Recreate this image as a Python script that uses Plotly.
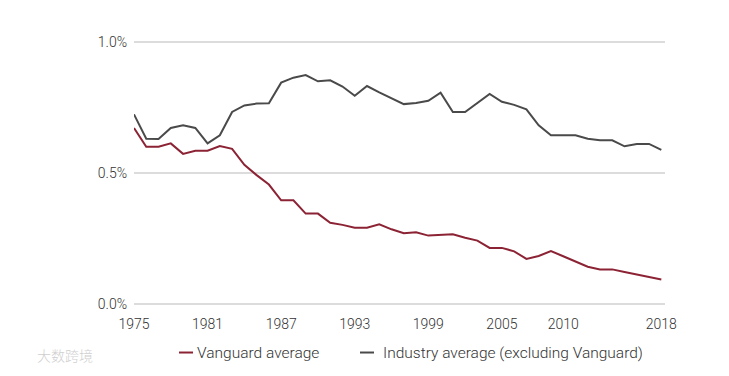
import plotly.graph_objects as go

years = list(range(1975, 2019))

vanguard = [0.672, 0.600, 0.600, 0.613, 0.573, 0.585, 0.585, 0.603, 0.592, 0.531,
            0.492, 0.456, 0.396, 0.396, 0.345, 0.345, 0.310, 0.302, 0.291, 0.291,
            0.304, 0.285, 0.270, 0.274, 0.261, 0.263, 0.266, 0.253, 0.242, 0.214,
            0.214, 0.201, 0.172, 0.183, 0.202, 0.182, 0.162, 0.142, 0.132, 0.132,
            0.122, 0.112, 0.102, 0.093]

industry = [0.724, 0.631, 0.630, 0.672, 0.682, 0.672, 0.613, 0.644, 0.733, 0.758,
            0.765, 0.766, 0.845, 0.864, 0.874, 0.850, 0.854, 0.830, 0.795, 0.832,
            0.808, 0.785, 0.763, 0.767, 0.776, 0.807, 0.733, 0.733, 0.769, 0.802,
            0.772, 0.760, 0.743, 0.682, 0.644, 0.644, 0.644, 0.631, 0.625, 0.625,
            0.602, 0.611, 0.611, 0.588]

tick_years = [1975, 1981, 1987, 1993, 1999, 2005, 2010, 2018]
y_ticks = [0.0, 0.5, 1.0]
y_tick_text = ["0.0%", "0.5%", "1.0%"]

series_names = ["Vanguard average", "Industry average (excluding Vanguard)"]
RED = "#8c2334"
GRAY = "#4a4a4a"
TEXT = "#333333"
FONT = "Roboto"

fig = go.Figure()
fig.add_trace(go.Scatter(x=years, y=industry, mode="lines", name=series_names[1],
                         line=dict(color=GRAY, width=2), showlegend=False))
fig.add_trace(go.Scatter(x=years, y=vanguard, mode="lines", name=series_names[0],
                         line=dict(color=RED, width=2), showlegend=False))

fig.update_layout(
    width=729, height=376,
    margin=dict(l=134, r=64, t=41, b=71),
    plot_bgcolor="white", paper_bgcolor="white",
    font=dict(family=FONT, size=14, color=TEXT, weight=300),
    xaxis=dict(range=[1975, 2018.3], tickvals=tick_years,
               ticktext=[str(t) for t in tick_years],
               showgrid=False, zeroline=False, showline=False, ticks="",
               ticklabelstandoff=9,
               tickfont=dict(family=FONT, size=14, color=TEXT, weight=300)),
    yaxis=dict(range=[-0.004, 1.004], tickvals=y_ticks, ticktext=y_tick_text,
               showgrid=True, gridcolor="#dcdcdc", gridwidth=1.5,
               zeroline=False, showline=False, ticks="",
               ticklabelstandoff=6,
               tickfont=dict(family=FONT, size=14, color=TEXT, weight=300)),
)

# legend: short coloured dashes + labels
legend_items = [(series_names[0], RED, 0.0847, 0.1111, 0.115),
                (series_names[1], GRAY, 0.4256, 0.452, 0.466)]
for name, color, x0, x1, xt in legend_items:
    fig.add_shape(type="line", xref="paper", yref="paper",
                  x0=x0, x1=x1, y0=-0.18, y1=-0.18,
                  line=dict(color=color, width=2))
    fig.add_annotation(xref="paper", yref="paper", x=xt, y=-0.18,
                       xanchor="left", yanchor="middle", showarrow=False,
                       text=name,
                       font=dict(family=FONT, size=15.5, color=TEXT, weight=300))

# faint watermark
fig.add_annotation(xref="paper", yref="paper", x=-0.186, y=-0.19,
                   xanchor="left", yanchor="middle", showarrow=False,
                   text="大数跨境",
                   font=dict(family="Noto Sans CJK SC", size=14, color="#cfcfcf"))

fig.write_html("out.html", config={"displayModeBar": False},
               post_script="document.body.style.margin='0';")
